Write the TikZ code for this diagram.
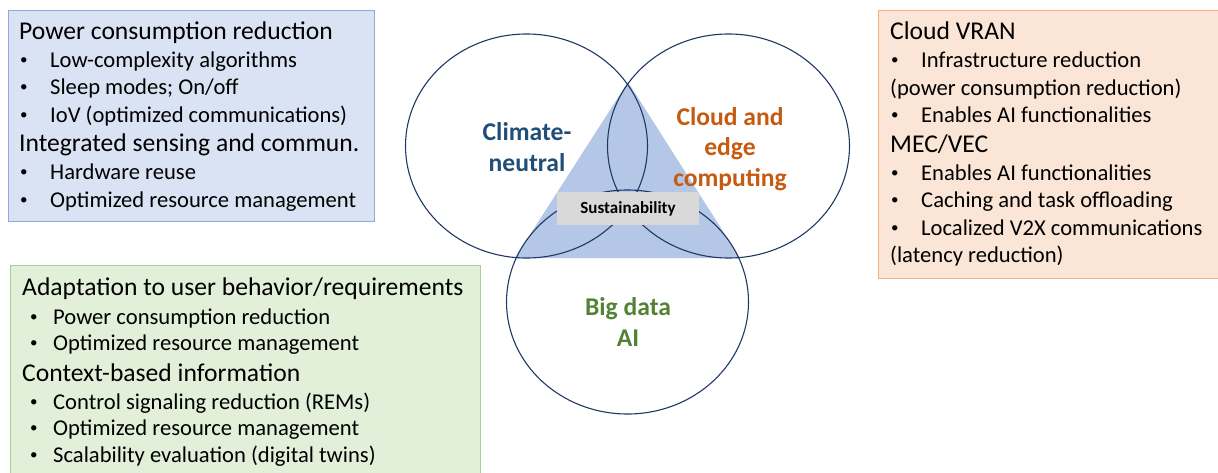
\documentclass[tikz,border=0pt]{standalone}
\usepackage{fontspec}
\setmainfont{Carlito}
\usetikzlibrary{shapes.geometric, positioning}
\definecolor{blueFill}{HTML}{DAE3F3}
\definecolor{blueLine}{HTML}{8FAADC}
\definecolor{greenFill}{HTML}{E2F0D9}
\definecolor{greenLine}{HTML}{A9D18E}
\definecolor{orangeFill}{HTML}{FBE5D6}
\definecolor{orangeLine}{HTML}{F4B183}
\definecolor{triFill}{HTML}{B4C7E7}
\definecolor{vennLine}{HTML}{203864}
\definecolor{climateText}{HTML}{1F4E79}
\definecolor{cloudText}{HTML}{C55A11}
\definecolor{dataText}{HTML}{548235}
\definecolor{coreFill}{HTML}{D9D9D9}
\tikzset{
    headText/.style={anchor=base west, inner sep=0pt, font=\fontsize{25.6}{27}\selectfont},
    itemText/.style={anchor=base west, inner sep=0pt, font=\fontsize{22.6}{27}\selectfont},
    vennSet/.style={ellipse, draw=vennLine, line width=1.1pt, minimum width=242pt, minimum height=224pt, inner sep=0pt},
    vennLabel/.style={align=center, inner sep=0pt, font=\fontsize{25.6}{30.5}\selectfont\bfseries},
    coreBox/.style={fill=coreFill, minimum width=142pt, minimum height=33pt, inner sep=0pt, font=\fontsize{17}{18}\selectfont\bfseries},
}
\newcommand{\bulletItem}[4][0pt]{
    \node[itemText] (#2) at (#3) {\makebox[31pt][l]{\hspace{#1}\raisebox{3pt}{\fontsize{15}{15}\selectfont\textbullet}}#4};
}

\begin{document}
\begin{tikzpicture}[x=1pt, y=-1pt]
    \useasboundingbox (0,0) rectangle (1218,472);

    % boxes
    \draw[fill=blueFill, draw=blueLine, line width=1pt] (8,10) rectangle (374,221);
    \draw[fill=greenFill, draw=greenLine, line width=1pt] (10,265) rectangle (480,480);
    \draw[fill=orangeFill, draw=orangeLine, line width=1pt] (878,10) rectangle (1224,278);

    \node[headText] (power) at (19,39) {Power consumption reduction};
    \bulletItem[1pt]{lowc}{19,67}{Low-complexity algorithms}
    \bulletItem[1pt]{sleep}{19,94}{Sleep modes; On/off}
    \bulletItem[1pt]{iov}{19,122}{IoV (optimized communications)}
    \node[headText] (isac) at (19,151) {Integrated sensing and commun.};
    \bulletItem[1pt]{hw}{19,179}{Hardware reuse}
    \bulletItem[1pt]{orm1}{19,207}{Optimized resource management}

    \node[headText] (adapt) at (22,295) {Adaptation to user behavior/requirements};
    \bulletItem[8pt]{pcr}{22,324}{Power consumption reduction}
    \bulletItem[8pt]{orm2}{22,350}{Optimized resource management}
    \node[headText] (context) at (22,381) {Context-based information};
    \bulletItem[8pt]{csr}{22,409}{Control signaling reduction (REMs)}
    \bulletItem[8pt]{orm3}{22,435}{Optimized resource management}
    \bulletItem[8pt]{scal}{22,462}{Scalability evaluation (digital twins)}

    \node[headText] (vran) at (890,39) {Cloud VRAN};
    \bulletItem[1pt]{infra}{890,67}{Infrastructure reduction}
    \node[itemText] (infra2) at (890,95) {(power consumption reduction)};
    \bulletItem[1pt]{ai1}{890,122}{Enables AI functionalities}
    \node[headText] (mec) at (890,152) {MEC/VEC};
    \bulletItem[1pt]{ai2}{890,180}{Enables AI functionalities}
    \bulletItem[1pt]{cache}{890,207}{Caching and task offloading}
    \bulletItem[1pt]{v2x}{890,235}{Localized V2X communications}
    \node[itemText] (v2x2) at (890,262) {(latency reduction)};

    % venn
    \fill[triFill] (628,82) -- (515,258) -- (740,258) -- cycle;
    \node[vennSet] (climate) at (526.5,146) {};
    \node[vennSet] (cloud) at (728.5,146) {};
    \node[vennSet] (bigdata) at (627.5,302) {};

    \node[vennLabel, text=climateText] (climateL) at (527,147) {Climate-\\neutral};
    \node[vennLabel, text=cloudText] (cloudL) at (730,149) {Cloud and\\edge\\computing};
    \node[vennLabel, text=dataText] (dataL) at (628,322) {Big data\\AI};
    \node[coreBox] (core) at (628,208.5) {Sustainability};

\end{tikzpicture}
\end{document}
